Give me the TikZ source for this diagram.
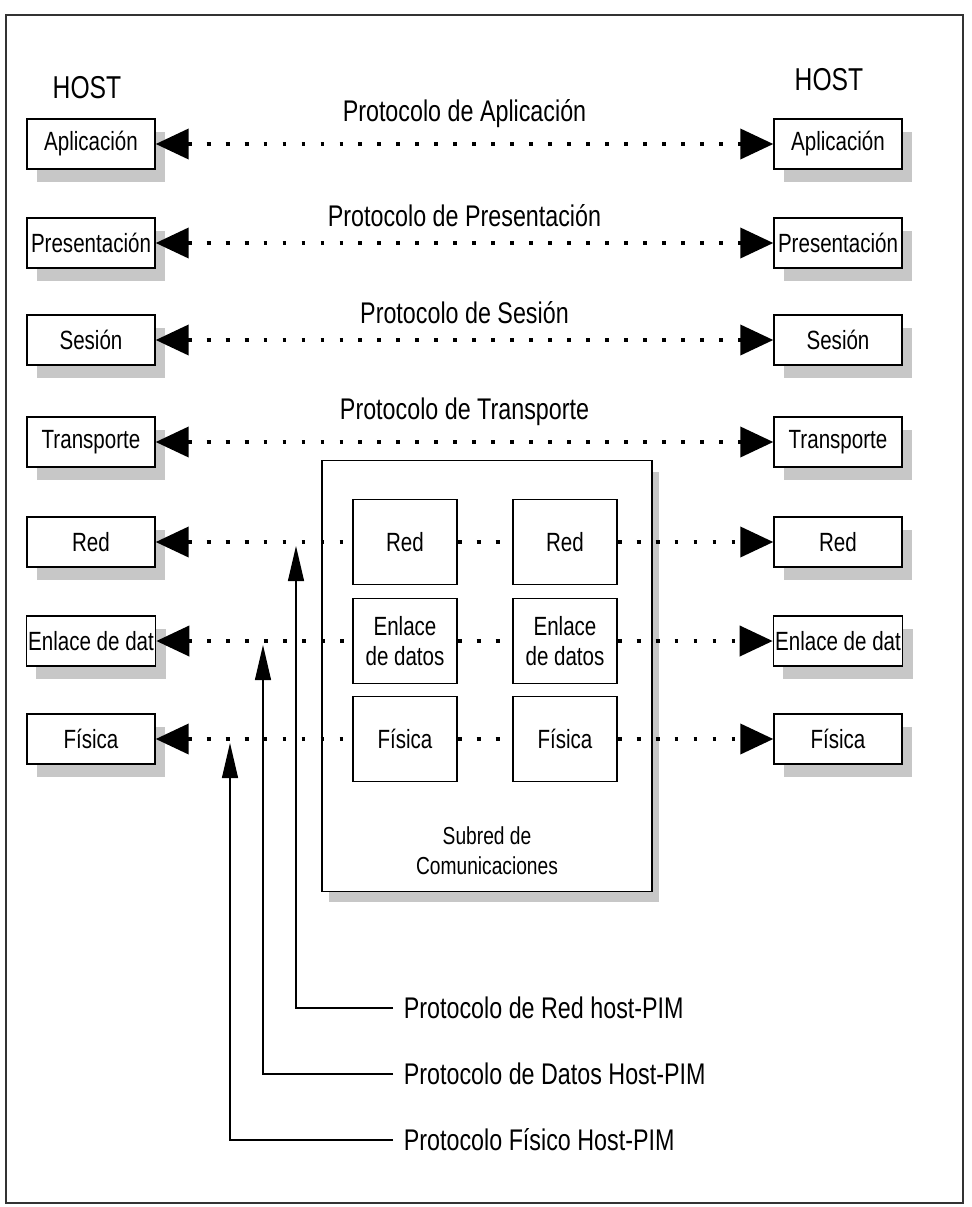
\documentclass[tikz,border=0pt]{standalone}
\usepackage{fontspec}
\setmainfont{Liberation Sans}[FakeStretch=0.78]
\usetikzlibrary{arrows.meta,shadows}
\tikzset{
  frame/.style={draw=black!80, line width=0.6pt},
  layerbox/.style={draw, line width=0.8pt, fill=white, minimum width=2.56cm, minimum height=1cm,
    inner sep=1pt, font=\fontsize{15}{17}\selectfont,
    drop shadow={shadow xshift=0.2cm, shadow yshift=-0.26cm, fill=black!22, opacity=1}},
  subbox/.style={draw, line width=0.8pt, fill=white, minimum width=2.08cm, minimum height=1.7cm,
    inner sep=1pt, align=center, font=\fontsize{15}{17}\selectfont},
  netbox/.style={draw, line width=0.8pt, fill=white, minimum width=6.6cm, minimum height=8.62cm,
    drop shadow={shadow xshift=0.14cm, shadow yshift=-0.22cm, fill=black!22, opacity=1}},
  hostlabel/.style={font=\fontsize{18}{20}\selectfont},
  protlabel/.style={font=\fontsize{17}{19}\selectfont, inner sep=0pt},
  notelabel/.style={font=\fontsize{17}{19}\selectfont, inner sep=0pt, inner xsep=6pt, anchor=west},
  peer/.style={line width=2.2pt, dash pattern=on 2.2pt off 8.6pt,
    >={Triangle[length=0.66cm,width=0.6cm]}},
  callout/.style={line width=0.7pt, -{Triangle[length=0.7cm,width=0.32cm]}},
}

\begin{document}
\begin{tikzpicture}[x=0.02cm, y=-0.02cm]
\useasboundingbox (0,0) rectangle (971,1207);
\draw[frame] (6,15) rectangle (963,1203);

% hosts
\node[hostlabel] (hostl) at (87,88) {HOST};
\node[hostlabel] (hostr) at (829,80) {HOST};

% left and right stacks
\node[layerbox] (la1) at (91,144) {Aplicación};
\node[layerbox] (la2) at (91,243) {Presentación};
\node[layerbox] (la3) at (91,340) {Sesión};
\node[layerbox] (la4) at (91,442) {Transporte};
\node[layerbox] (la5) at (91,542) {Red};
\node[layerbox] (la6) at (91,641) {Enlace de dat};
\node[layerbox] (la7) at (91,739) {Física};
\node[layerbox] (ra1) at (838,144) {Aplicación};
\node[layerbox] (ra2) at (838,243) {Presentación};
\node[layerbox] (ra3) at (838,340) {Sesión};
\node[layerbox] (ra4) at (838,442) {Transporte};
\node[layerbox] (ra5) at (838,542) {Red};
\node[layerbox] (ra6) at (838,641) {Enlace de dat};
\node[layerbox] (ra7) at (838,739) {Física};

% communication subnet
\node[netbox] (subred) at (487,676) {};
\node[font=\fontsize{14}{17}\selectfont, align=center] (sublabel) at (487,851) {Subred de\\Comunicaciones};
\node[subbox] (ia5) at (405,542) {Red};
\node[subbox] (ia6) at (405,641) {Enlace\\de datos};
\node[subbox] (ia7) at (405,739) {Física};
\node[subbox] (ib5) at (565,542) {Red};
\node[subbox] (ib6) at (565,641) {Enlace\\de datos};
\node[subbox] (ib7) at (565,739) {Física};

% peer protocols
\draw[peer, <->] (la1) -- node[protlabel, above=8pt] (p1) {Protocolo de Aplicación} (ra1);
\draw[peer, <->] (la2) -- node[protlabel, above=8pt] (p2) {Protocolo de Presentación} (ra2);
\draw[peer, <->] (la3) -- node[protlabel, above=8pt] (p3) {Protocolo de Sesión} (ra3);
\draw[peer, <->] (la4) -- node[protlabel, above=8pt] (p4) {Protocolo de Transporte} (ra4);
\foreach \i in {5,6,7} {
  \draw[peer, <-] (la\i) -- (ia\i);
  \draw[peer] (ia\i) -- (ib\i);
  \draw[peer, ->] (ib\i) -- (ra\i);
}

% host-PIM protocols
\coordinate (tred) at (296,546);
\coordinate (tdat) at (263,645);
\coordinate (tfis) at (230,743);
\node[notelabel] (nred) at (393,1008) {Protocolo de Red host-PIM};
\node[notelabel] (ndat) at (393,1074) {Protocolo de Datos Host-PIM};
\node[notelabel] (nfis) at (393,1140) {Protocolo Físico Host-PIM};
\draw[callout] (nred.west) -| (tred);
\draw[callout] (ndat.west) -| (tdat);
\draw[callout] (nfis.west) -| (tfis);
\end{tikzpicture}
\end{document}
